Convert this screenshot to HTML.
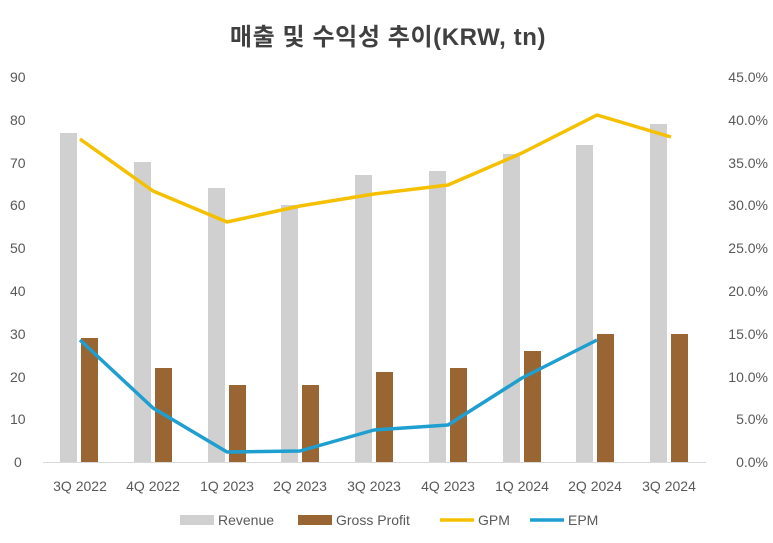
<!DOCTYPE html>
<html><head><meta charset="utf-8"><style>
body{margin:0;background:#fff;}
svg{display:block;font-family:"Liberation Sans","Noto Sans CJK KR",sans-serif;}
</style></head><body>
<svg width="773" height="543" viewBox="0 0 773 543">
<text x="388" y="45" text-anchor="middle" font-size="24" font-weight="bold" fill="#404040" letter-spacing="0.6">매출 및 수익성 추이(KRW, tn)</text>
<g font-size="14" fill="#595959">
<text x="10" y="82">90</text><text x="10" y="125">80</text><text x="10" y="168">70</text><text x="10" y="210">60</text><text x="10" y="253">50</text><text x="10" y="296">40</text><text x="10" y="339">30</text><text x="10" y="382">20</text><text x="10" y="424">10</text><text x="14" y="467">0</text>
<g text-anchor="end">
<text x="768" y="82">45.0%</text><text x="768" y="125">40.0%</text><text x="768" y="168">35.0%</text><text x="768" y="210">30.0%</text><text x="768" y="253">25.0%</text><text x="768" y="296">20.0%</text><text x="768" y="339">15.0%</text><text x="768" y="382">10.0%</text><text x="768" y="424">5.0%</text><text x="768" y="467">0.0%</text>
</g>
<g text-anchor="middle">
<text x="80" y="491">3Q 2022</text><text x="153" y="491">4Q 2022</text><text x="227" y="491">1Q 2023</text><text x="300" y="491">2Q 2023</text><text x="374" y="491">3Q 2023</text><text x="448" y="491">4Q 2023</text><text x="522" y="491">1Q 2024</text><text x="595" y="491">2Q 2024</text><text x="669" y="491">3Q 2024</text>
</g>
</g>
<line x1="43" y1="462.5" x2="706" y2="462.5" stroke="#d9d9d9"/>
<g fill="#d0d0d0">
<rect x="60" y="133" width="17" height="329"/>
<rect x="134" y="162" width="17" height="300"/>
<rect x="208" y="188" width="17" height="274"/>
<rect x="281" y="205" width="17" height="257"/>
<rect x="355" y="175" width="17" height="287"/>
<rect x="429" y="171" width="17" height="291"/>
<rect x="503" y="154" width="17" height="308"/>
<rect x="576" y="145" width="17" height="317"/>
<rect x="650" y="124" width="17" height="338"/>
</g>
<g fill="#996633">
<rect x="81" y="338" width="17" height="124"/>
<rect x="155" y="368" width="17" height="94"/>
<rect x="229" y="385" width="17" height="77"/>
<rect x="302" y="385" width="17" height="77"/>
<rect x="376" y="372" width="17" height="90"/>
<rect x="450" y="368" width="17" height="94"/>
<rect x="524" y="351" width="17" height="111"/>
<rect x="597" y="334" width="17" height="128"/>
<rect x="671" y="334" width="17" height="128"/>
</g>
<polyline fill="none" stroke="#f5c000" stroke-width="3.5" stroke-linejoin="round" points="80,139 153,191 227,222 300,206 374,194 448,185 522,153 597,115 671,137"/>
<polyline fill="none" stroke="#1f9fd0" stroke-width="3.5" stroke-linejoin="round" points="80,340 153,408 227,452 300,451 374,430 448,425 522,378 597,340"/>
<g font-size="14" fill="#595959">
<rect x="180" y="515" width="34" height="10" fill="#d0d0d0"/><text x="218" y="525">Revenue</text>
<rect x="298" y="515" width="34" height="10" fill="#996633"/><text x="336" y="525">Gross Profit</text>
<line x1="440" y1="520" x2="474" y2="520" stroke="#f5c000" stroke-width="3.5"/><text x="478" y="525">GPM</text>
<line x1="530" y1="520" x2="564" y2="520" stroke="#1f9fd0" stroke-width="3.5"/><text x="568" y="525">EPM</text>
</g>
</svg>
</body></html>
